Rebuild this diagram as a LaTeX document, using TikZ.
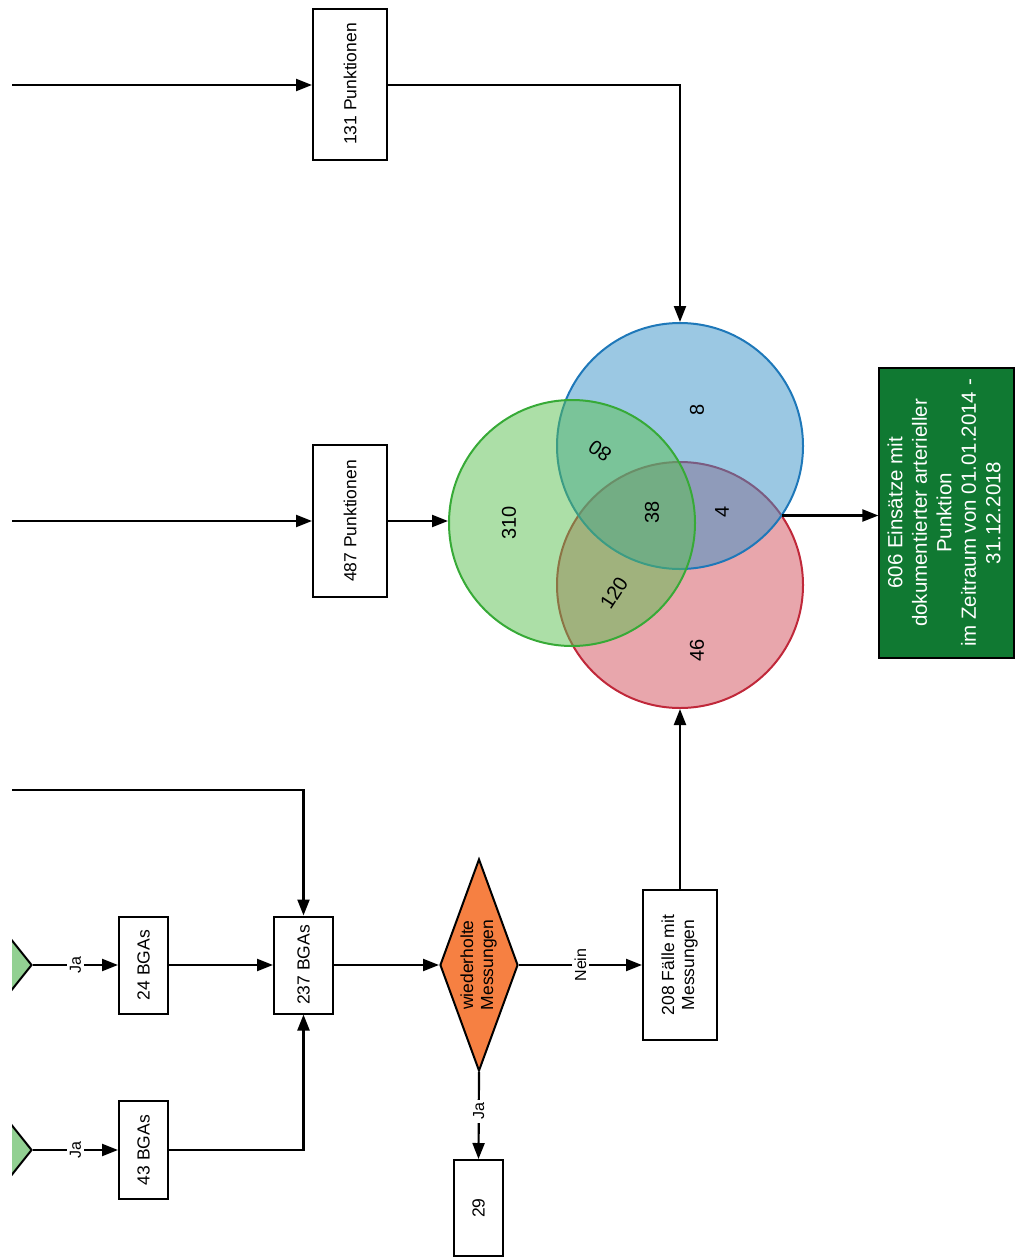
\documentclass[tikz,border=0pt]{standalone}
\usepackage{fontspec}
\setmainfont{Liberation Sans}
\usepackage{graphicx}
\usetikzlibrary{arrows.meta,shapes.geometric}
\definecolor{vredfill}{RGB}{209,77,89}
\definecolor{vredline}{RGB}{192,40,58}
\definecolor{vbluefill}{RGB}{55,145,200}
\definecolor{vblueline}{RGB}{30,120,185}
\definecolor{vgreenfill}{RGB}{90,192,80}
\definecolor{vgreenline}{RGB}{55,170,55}
\definecolor{resgreen}{RGB}{16,121,50}
\definecolor{orangefill}{RGB}{246,128,66}
\definecolor{lightgreen}{RGB}{146,208,146}
\begin{document}
\begin{tikzpicture}[x=1pt,y=-1pt,
  line width=2.2pt,
  >={Triangle[length=16pt,width=12pt]},
  box/.style 2 args={draw=black, line width=2pt, fill=white, inner sep=0pt,
    minimum width=#1, minimum height=#2, font=\fontsize{17.5}{20}\selectfont},
  lbl/.style={fill=white, inner sep=3pt, font=\fontsize{16}{19}\selectfont},
  venn/.style={circle, minimum size=246pt, inner sep=0pt, line width=2pt, fill opacity=0.5},
  vnum/.style={font=\fontsize{20}{24}\selectfont, inner sep=0pt},
  dec/.style={diamond, draw=black, line width=2pt, inner sep=0pt}
]
\useasboundingbox (0,0) rectangle (1016,1258);
\begin{scope}
\clip (12,0) rectangle (1016,1258);

% Venn diagram
\node[venn, draw=vredline, fill=vredfill] (red) at (680,585) {};
\node[venn, draw=vblueline, fill=vbluefill] (blue) at (680,446) {};
\node[venn, draw=vgreenline, fill=vgreenfill] (green) at (572,523) {};
\node[vnum, rotate=90] (n310) at (509,523) {310};
\node[vnum, rotate=145] (n80) at (600,451) {80};
\node[vnum, rotate=90] (n8) at (697,410) {8};
\node[vnum, rotate=90] (n38) at (652,512) {38};
\node[vnum, rotate=90] (n4) at (722,512) {4};
\node[vnum, rotate=57] (n120) at (614,593) {120};
\node[vnum, rotate=90] (n46) at (697,650) {46};
\coordinate (vx) at (781.5,515.5);

% boxes
\node[box={74pt}{151pt}] (b131) at (350,84) {\rotatebox{90}{131 Punktionen}};
\node[box={74pt}{152pt}] (b487) at (350,521) {\rotatebox{90}{487 Punktionen}};
\node[box={49pt}{97pt}] (b24) at (143.5,965) {\rotatebox{90}{24 BGAs}};
\node[box={49pt}{98pt}] (b43) at (143.5,1150) {\rotatebox{90}{43 BGAs}};
\node[box={59pt}{97pt}] (b237) at (303.5,965) {\rotatebox{90}{237 BGAs}};
\node[box={74pt}{150pt}] (b208) at (680,965) {\rotatebox{90}{\begin{tabular}{@{}c@{}}208 Fälle mit\\Messungen\end{tabular}}};
\node[box={49pt}{96pt}] (b29) at (478.5,1208) {\rotatebox{90}{29}};
\node[dec, fill=orangefill, shape aspect=0.368, minimum width=78pt, minimum height=212pt,
  font=\fontsize{17.5}{20}\selectfont] (dia) at (479,965)
  {\rotatebox{90}{\begin{tabular}{@{}c@{}}wiederholte\\Messungen\end{tabular}}};
\node[draw=black, line width=1.2pt, fill=resgreen, text=white, inner sep=0pt,
  minimum width=135pt, minimum height=290pt, font=\fontsize{20.5}{24.5}\selectfont] (res) at (946.5,513)
  {\rotatebox{90}{\begin{tabular}{@{}c@{}}606 Einsätze mit\\dokumentierter arterieller\\Punktion\\im Zeitraum von 01.01.2014 -\\31.12.2018\end{tabular}}};

% partial green decisions at the left edge
\node[dec, fill=lightgreen, shape aspect=0.8, minimum width=120pt, minimum height=150pt] (g1) at (-28,965) {};
\node[dec, fill=lightgreen, shape aspect=0.8, minimum width=120pt, minimum height=150pt] (g2) at (-28,1150) {};

% free ends at the left edge
\coordinate (in1) at (12,85);
\coordinate (in2) at (12,521);
\coordinate (in3) at (12,790);

% connectors
\draw[->] (in1) -- (in1 -| b131.west);
\draw[->] (b131.east |- in1) -| (blue.north);
\draw[->] (in2) -- (b487.west);
\draw[->] (b487.east) -- (b487.east -| green.west);
\draw[->] (vx) -- (vx -| res.west);
\draw[->] (b208.north) -- (red.south);
\draw[->] (dia.east) -- node[lbl]{\rotatebox{90}{Nein}} (b208.west);
\draw[->] (dia.south) -- node[lbl, pos=0.45]{\rotatebox{90}{Ja}} (b29.north);
\draw[->] (b237.east) -- (dia.west);
\draw[->] (b24.east) -- (b237.west);
\draw[->] (b43.east) -| (b237.south);
\draw[->] (in3) -| (b237.north);
\draw[->] (g1.east) -- node[lbl]{\rotatebox{90}{Ja}} (b24.west);
\draw[->] (g2.east) -- node[lbl]{\rotatebox{90}{Ja}} (b43.west);
\end{scope}
\end{tikzpicture}
\end{document}
